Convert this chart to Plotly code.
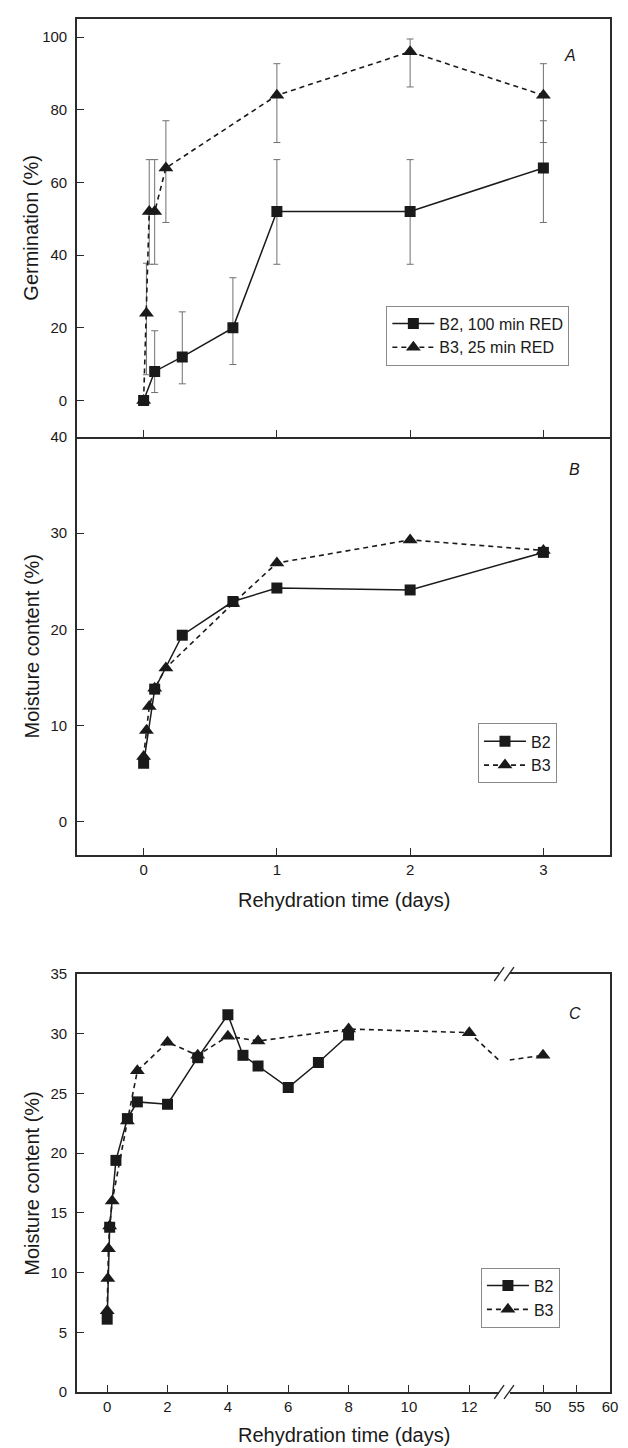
import plotly.graph_objects as go

# ---------------- data ----------------
# Panel A: germination (%) vs rehydration time (days)
germ_b2_days = [0, 0.083, 0.29, 0.67, 1, 2, 3]
germ_b2 = [0, 8, 12, 20, 52, 52, 64]
germ_b2_err_plus = [0, 11.2, 12.4, 13.8, 14.3, 14.3, 13.0]
germ_b2_err_minus = [0, 5.8, 7.4, 10.1, 14.5, 14.5, 15.0]

germ_b3_days = [0, 0.021, 0.042, 0.083, 0.167, 1, 2, 3]
germ_b3 = [0, 24, 52, 52, 64, 84, 96, 84]
germ_b3_err_plus = [0, 13.8, 14.3, 14.3, 13.0, 8.7, 3.5, 8.7]
germ_b3_err_minus = [0, 16.9, 14.5, 14.5, 15.0, 13.0, 9.7, 13.0]

# Panels B and C: moisture content (%) vs rehydration time (days)
mc_b2_days = [0, 0.083, 0.29, 0.67, 1, 2, 3, 4, 4.5, 5, 6, 7, 8]
mc_b2 = [6.1, 13.8, 19.4, 22.9, 24.3, 24.1, 28.0, 31.6, 28.2, 27.3, 25.5, 27.6, 29.9]

# day 14 lies inside the axis break (not drawn as a marker)
mc_b3_days = [0, 0.021, 0.042, 0.083, 0.167, 0.67, 1, 2, 3, 4, 5, 8, 12, 14, 50]
mc_b3 = [6.8, 9.5, 12.0, 13.9, 16.0, 22.7, 26.9, 29.3, 28.2, 29.8, 29.4, 30.4, 30.1, 25.4, 28.2]

a_yticks = [0, 20, 40, 60, 80, 100]
b_yticks = [0, 10, 20, 30, 40]
c_yticks = [0, 5, 10, 15, 20, 25, 30, 35]
ab_xticks = [0, 1, 2, 3]
c_xticks_left = [0, 2, 4, 6, 8, 10, 12]
c_xticks_right = [50, 55, 60]

legend_a = ["B2, 100 min RED", "B3, 25 min RED"]
legend_bc = ["B2", "B3"]

# ---------------- style ----------------
FONT = "Liberation Sans, Arial, sans-serif"
INK = "#1a1a1a"
FRAME = "#2b2b2b"
ERR = "#707070"
b2_line = dict(color=INK, width=1.5)
b3_line = dict(color=INK, width=1.6, dash="5px,4px")
b2_marker = dict(symbol="square", size=11, color=INK)
b3_marker = dict(symbol="triangle-up", size=13, color=INK)

W, H = 628, 1448
ML, MR, MT, MB = 77, 10, 12, 56
PW, PH = W - ML - MR, H - MT - MB


def px_x(px):
    return (px - ML) / PW


def px_y(py):
    return (H - MB - py) / PH


fig = go.Figure()

# Panel A
fig.add_trace(go.Scatter(
    x=germ_b2_days, y=germ_b2, mode="lines+markers", name=legend_a[0],
    line=b2_line, marker=b2_marker, xaxis="x", yaxis="y", legend="legend",
    error_y=dict(type="data", symmetric=False, array=germ_b2_err_plus,
                 arrayminus=germ_b2_err_minus, color=ERR, thickness=1, width=3.5)))
fig.add_trace(go.Scatter(
    x=germ_b3_days, y=germ_b3, mode="lines+markers", name=legend_a[1],
    line=b3_line, marker=b3_marker, xaxis="x", yaxis="y", legend="legend",
    error_y=dict(type="data", symmetric=False, array=germ_b3_err_plus,
                 arrayminus=germ_b3_err_minus, color=ERR, thickness=1, width=3.5)))

# Panel B (first three days)
b2_sel = [i for i, d in enumerate(mc_b2_days) if d <= 3]
b3_sel = [i for i, d in enumerate(mc_b3_days) if d <= 3]
fig.add_trace(go.Scatter(
    x=[mc_b2_days[i] for i in b2_sel], y=[mc_b2[i] for i in b2_sel],
    mode="lines+markers", name=legend_bc[0], line=b2_line, marker=b2_marker,
    xaxis="x2", yaxis="y2", legend="legend2"))
fig.add_trace(go.Scatter(
    x=[mc_b3_days[i] for i in b3_sel], y=[mc_b3[i] for i in b3_sel],
    mode="lines+markers", name=legend_bc[1], line=b3_line, marker=b3_marker,
    xaxis="x2", yaxis="y2", legend="legend2"))

# Panel C (broken x axis: two segments)
for xa, ya, show in (("x3", "y3", True), ("x4", "y4", False)):
    fig.add_trace(go.Scatter(
        x=mc_b2_days, y=mc_b2, mode="lines+markers", name=legend_bc[0],
        line=b2_line, marker=b2_marker, xaxis=xa, yaxis=ya,
        legend="legend3", showlegend=show))
    fig.add_trace(go.Scatter(
        x=mc_b3_days, y=mc_b3, mode="lines+markers", name=legend_bc[1],
        line=b3_line, marker=b3_marker, xaxis=xa, yaxis=ya,
        legend="legend3", showlegend=show))

tickfont = dict(family=FONT, size=15, color=INK)
common_axis = dict(showgrid=False, zeroline=False, showline=True, linecolor=FRAME,
                   linewidth=1.6, ticks="inside", ticklen=7, tickwidth=1.4,
                   tickcolor=FRAME, tickfont=tickfont)

yA = [px_y(432), 1.0]
yB = [px_y(852), px_y(432)]
yC = [0.0, px_y(972)]
xC1 = [0.0, px_x(505.8)]
xC2 = [px_x(516), 1.0]

legend_common = dict(xanchor="left", yanchor="top", bordercolor="#8a8a8a",
                     borderwidth=1, bgcolor="white", itemwidth=42,
                     font=dict(family=FONT, size=16, color=INK))

fig.update_layout(
    width=W, height=H,
    margin=dict(l=ML, r=MR, t=MT, b=MB),
    paper_bgcolor="white", plot_bgcolor="white",
    font=dict(family=FONT, color=INK),
    xaxis=dict(**common_axis, domain=[0, 1], anchor="y", range=[-0.5, 3.5],
               tickvals=ab_xticks, showticklabels=False, mirror=True),
    yaxis=dict(**common_axis, domain=yA, anchor="x", range=[-10, 105],
               tickvals=a_yticks, mirror=True, ticklabelstandoff=5),
    xaxis2=dict(**common_axis, domain=[0, 1], anchor="y2", range=[-0.5, 3.5],
                tickvals=ab_xticks, mirror=False),
    yaxis2=dict(**common_axis, domain=yB, anchor="x2", range=[-3.4, 40],
                tickvals=b_yticks, mirror=True, ticklabelstandoff=5),
    xaxis3=dict(**common_axis, domain=xC1, anchor="y3", range=[-1, 13],
                tickvals=c_xticks_left, mirror=True),
    yaxis3=dict(**common_axis, domain=yC, anchor="x3", range=[0, 35],
                tickvals=c_yticks, ticklabelstandoff=5),
    xaxis4=dict(**common_axis, domain=xC2, anchor="y4", range=[45, 60],
                tickvals=c_xticks_right, mirror=True),
    yaxis4=dict(showgrid=False, zeroline=False, showline=True, linecolor=FRAME,
                linewidth=1.6, domain=yC, anchor="x4", range=[0, 35], side="right",
                ticks="", showticklabels=False, matches="y3"),
    legend=dict(x=px_x(391), y=px_y(300), **legend_common),
    legend2=dict(x=px_x(484), y=px_y(720), **legend_common),
    legend3=dict(x=px_x(487), y=px_y(1267), **legend_common),
)

# axis-break marks on panel C
for yy in (972, 1392):
    for cx in (505.5, 515.5):
        fig.add_shape(type="line", xref="paper", yref="paper",
                      x0=px_x(cx - 5), y0=px_y(yy + 7), x1=px_x(cx + 5), y1=px_y(yy - 7),
                      line=dict(color=FRAME, width=1.4))

title_font = dict(family=FONT, size=20, color=INK)
ann = [
    dict(text="Germination (%)", x=px_x(30), y=sum(yA) / 2, textangle=-90),
    dict(text="Moisture content (%)", x=px_x(31), y=sum(yB) / 2, textangle=-90),
    dict(text="Moisture content (%)", x=px_x(31), y=sum(yC) / 2, textangle=-90),
    dict(text="Rehydration time (days)", x=0.5, y=px_y(897), textangle=0),
    dict(text="Rehydration time (days)", x=0.5, y=px_y(1435), textangle=0),
]
for a in ann:
    fig.add_annotation(xref="paper", yref="paper", showarrow=False,
                       xanchor="center", yanchor="middle", font=title_font, **a)

for lab, (lx, ly) in zip(["A", "B", "C"], [(577, 49), (582, 465), (582, 1012)]):
    fig.add_annotation(xref="paper", yref="paper", showarrow=False, text=f"<i>{lab}</i>",
                       x=px_x(lx), y=px_y(ly), xanchor="center", yanchor="middle",
                       font=dict(family=FONT, size=16, color=INK))

fig.write_html("out.html", config={"displayModeBar": False},
               post_script="document.body.style.margin='0px';")
